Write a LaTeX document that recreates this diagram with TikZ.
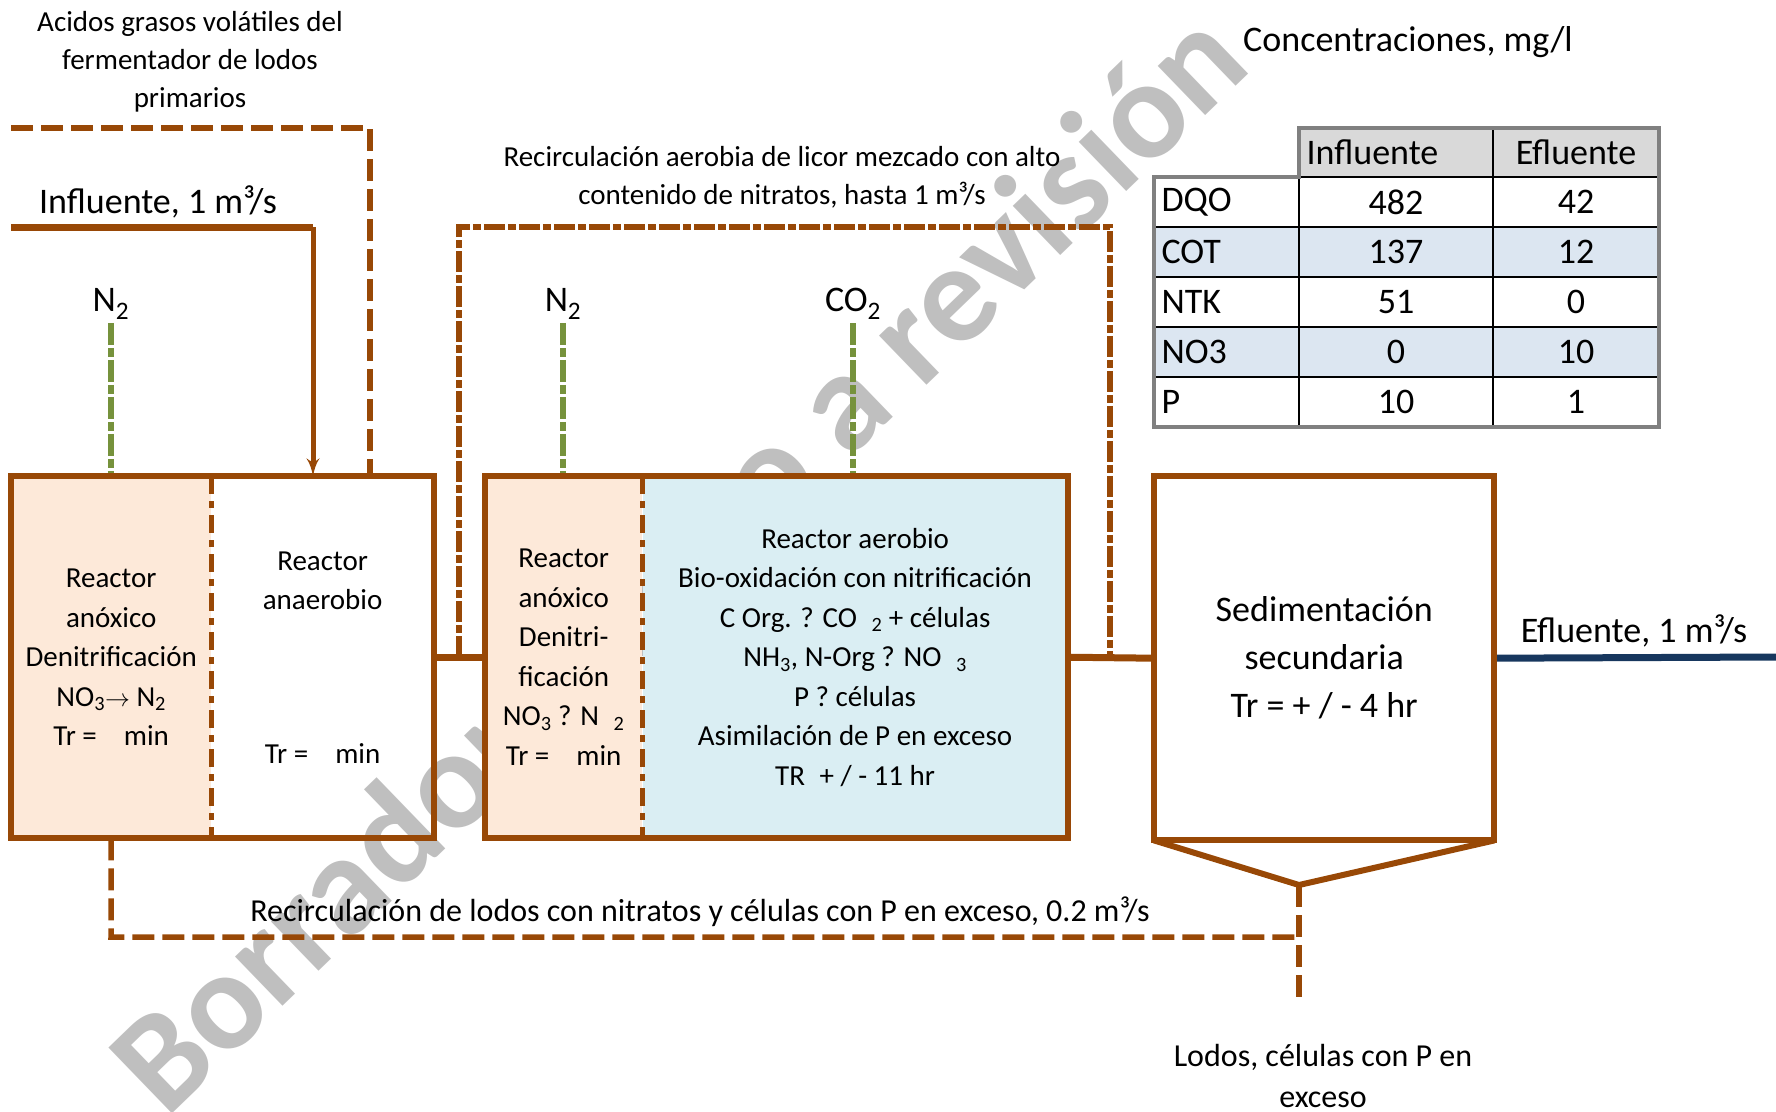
\documentclass[tikz,border=0pt]{standalone}
\usepackage{fontspec}
\setmainfont{Carlito}
\usetikzlibrary{positioning}
\usetikzlibrary{arrows}
\definecolor{brn}{RGB}{152,72,6}
\definecolor{peach}{RGB}{253,233,217}
\definecolor{aqua}{RGB}{218,238,243}
\definecolor{gasgreen}{RGB}{118,146,60}
\definecolor{navy}{RGB}{23,55,94}
\definecolor{hdrgray}{RGB}{217,217,217}
\definecolor{rowblue}{RGB}{220,230,241}
\definecolor{wmgray}{RGB}{191,191,191}
\newcommand{\notefont}{\fontsize{29}{38}\selectfont}
\newcommand{\boxfont}{\fontsize{29}{39.5}\selectfont}
\newcommand{\flowfont}{\fontsize{36}{48}\selectfont}
\tikzstyle{zone} = [rectangle, inner sep=0pt, anchor=north west, minimum height=362pt, align=center, font=\boxfont]
\tikzstyle{wall} = [draw=brn, line width=6pt]
\tikzstyle{divider} = [draw=brn, line width=4.5pt, dash pattern=on 18pt off 7pt on 7pt off 7pt]
\tikzstyle{pipe} = [draw=brn, line width=7pt]
\tikzstyle{feed} = [draw=brn, line width=5pt, -latex']
\tikzstyle{outflow} = [draw=navy, line width=7pt]
\tikzstyle{sludge} = [draw=brn, line width=5.5pt, dash pattern=on 22pt off 8pt]
\tikzstyle{mixed} = [draw=brn, line width=5.5pt, dash pattern=on 21pt off 3pt on 8pt off 3pt]
\tikzstyle{gas} = [draw=gasgreen, line width=5.5pt, dash pattern=on 22pt off 3pt on 9pt off 3pt]
\tikzstyle{note} = [align=center, font=\notefont]
\tikzstyle{flowlbl} = [align=center, font=\flowfont]
\tikzstyle{tabtxt} = [font=\flowfont]
\tikzstyle{grid} = [draw=black, line width=1.5pt]
\tikzstyle{tabframe} = [draw=gray, line width=3.5pt]

\begin{document}
\begin{tikzpicture}[x=1pt, y=-1pt, auto]
    \useasboundingbox (0,0) rectangle (1776,1111);
    \clip (0,0) rectangle (1776,1111);
    \node[rotate=44, text=wmgray, font=\fontsize{141}{141}\selectfont\bfseries] (wm) at (684,567) {Borrador sujeto a revisión};

    \node[zone, fill=peach, minimum width=200pt] (anox1) at (11,476) {Reactor\\anóxico\\Denitrificación\\NO\textsubscript{3}$\rightarrow$ N\textsubscript{2}\\Tr =\hspace{0.93em}min};
    \node[zone, minimum width=222pt, right=0pt of anox1] (anaer) {Reactor\\anaerobio\\[114pt]Tr =\hspace{0.93em}min};
    \node[zone, fill=peach, minimum width=157pt] (anox2) at (485,476) {Reactor\\anóxico\\Denitri-\\ficación\\NO\textsubscript{3} ? N\enspace\textsubscript{2}\\Tr =\hspace{0.93em}min};
    \node[zone, fill=aqua, minimum width=425pt, right=0pt of anox2] (aer) {Reactor aerobio\\Bio-oxidación con nitrificación\\C Org. ? CO\enspace\textsubscript{2} + células\\NH\textsubscript{3}, N-Org ? NO\enspace\textsubscript{3}\\P ? células\\Asimilación de P en exceso\\TR\enspace+ / - 11 hr};
    \node[zone, minimum width=340pt, minimum height=364pt, font=\flowfont] (settle) at (1154,476) {Sedimentación\\secundaria\\Tr = + / - 4 hr};
    \coordinate (apex) at (1299,885);
    \coordinate (outlet) at (1776,657);

    \fill[hdrgray] (1299,128) rectangle (1659,177);
    \node[tabtxt, anchor=west] (hin) at (1303,152) {Influente};
    \node[tabtxt] (hout) at (1576,152) {Efluente};
    \foreach \prm/\vin/\vout/\bg [count=\i] in {DQO/482/42/white, COT/137/12/rowblue, NTK/51/0/white, NO3/0/10/rowblue, P/10/1/white} {
        \fill[\bg] (1154,{127+50*\i}) rectangle (1659,{177+50*\i});
        \node[tabtxt, anchor=west] (p\i) at (1158,{152+50*\i}) {\prm};
        \node[tabtxt] (in\i) at (1396,{152+50*\i}) {\vin};
        \node[tabtxt] (out\i) at (1576,{152+50*\i}) {\vout};
    }
    \foreach \i in {1,...,4}
        \draw[grid] (1154,{177+50*\i}) -- (1659,{177+50*\i});
    \draw[grid] (1299,177) -- (1659,177);
    \draw[grid] (1299,177) -- (1299,427);
    \draw[grid] (1493,128) -- (1493,427);
    \draw[tabframe] (1299,128) -- (1659,128) -- (1659,427) -- (1154,427) -- (1154,177) -- (1299,177) -- cycle;
    \node[flowlbl] (conc) at (1408,42) {Concentraciones, mg/l};

    \node[note] (agvlbl) at (190,62) {Acidos grasos volátiles del\\fermentador de lodos\\primarios};
    \node[flowlbl] (infl) at (158,202) {Influente, 1 m³/s};
    \node[note] (mlrlbl) at (782,177) {Recirculación aerobia de licor mezcado con alto\\contenido de nitratos, hasta 1 m³/s};
    \node[flowlbl] (gas1) at (111,304) {N\textsubscript{2}};
    \node[flowlbl] (gas2) at (563,304) {N\textsubscript{2}};
    \node[flowlbl] (gas3) at (853,304) {CO\textsubscript{2}};
    \node[flowlbl] (effl) at (1634,631) {Efluente, 1 m³/s};
    \node[note, font=\fontsize{32}{38}\selectfont] (raslbl) at (700,912) {Recirculación de lodos con nitratos y células con P en exceso, 0.2 m³/s};
    \node[note, font=\fontsize{32}{41}\selectfont] (wastelbl) at (1323,1076) {Lodos, células con P en\\exceso};

    \coordinate (infl0) at (11,227);
    \coordinate (infl1) at (313,227);
    \coordinate (agv0) at (11,128);
    \coordinate (agv1) at (370,128);
    \coordinate (mlr0) at (459,227);
    \coordinate (mlr1) at (1110,227);
    \coordinate (rasturn) at (111,937);
    \coordinate (waste) at (1299,1002);

    \path[gas] (gas1.south) -- (gas1.south |- anox1.north);
    \path[gas] (gas2.south) -- (gas2.south |- anox2.north);
    \path[gas] (gas3.south) -- (gas3.south |- aer.north);
    \path[pipe] (infl0) -- (infl1);
    \path[feed] (infl1) -- (infl1 |- anaer.north);
    \path[sludge] (agv0) -- (agv1) -- (agv1 |- anaer.north);
    \path[mixed] (mlr0 |- anaer.east) -- (mlr0) -- (mlr1) -- (mlr1 |- aer.east);
    \path[pipe] (anaer.east) -- (anox2.west);
    \path[pipe] (aer.east) -- (settle.west);
    \path[outflow] (settle.east) -- (outlet);
    \path[sludge] (anox1.south) -- (rasturn) -- (rasturn -| apex);
    \path[sludge] (apex) -- (waste);

    \draw[wall] (anox1.north west) rectangle (anaer.south east);
    \draw[wall] (anox2.north west) rectangle (aer.south east);
    \path[divider] (anox1.north east) -- (anox1.south east);
    \path[divider] (anox2.north east) -- (anox2.south east);
    \draw[wall] (settle.north west) rectangle (settle.south east);
    \draw[wall] (settle.south west) -- (apex) -- (settle.south east);
\end{tikzpicture}
\end{document}
